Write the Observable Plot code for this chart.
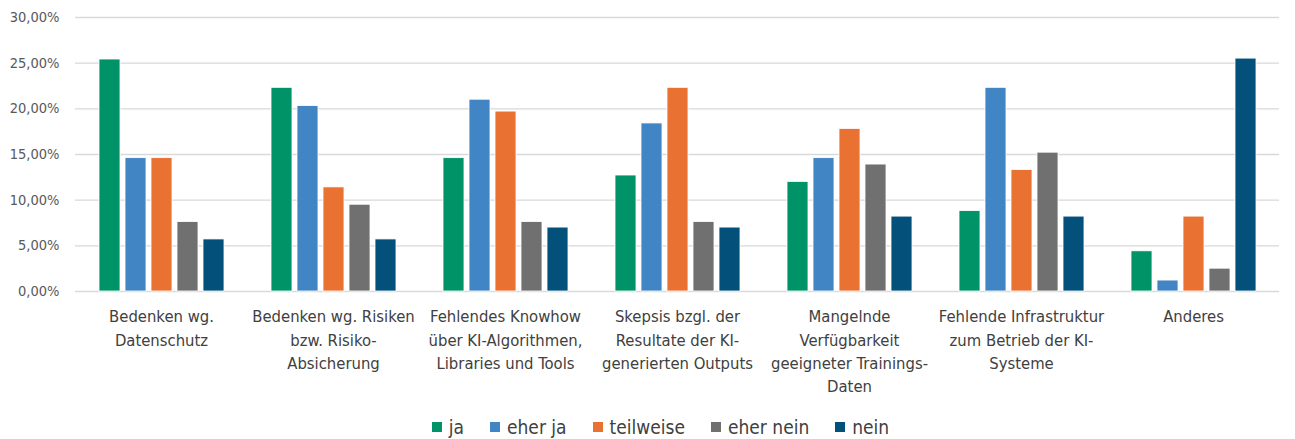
<!DOCTYPE html>
<html>
<head>
<meta charset="utf-8">
<script src="https://cdn.jsdelivr.net/npm/d3@7"></script>
<script src="https://cdn.jsdelivr.net/npm/@observablehq/plot@0.6"></script>
<style>
  html, body { margin: 0; padding: 0; background: #fff; }
  body { width: 1295px; height: 439px; overflow: hidden; font-family: "Liberation Sans Narrow", "DejaVu Sans Condensed", "Roboto", sans-serif; }
  #legend { display: flex; justify-content: center; gap: 26px; font-size: 19px; color: #404040; height: 34px; align-items: center; padding-top: 5px; padding-left: 26px; }
  #legend .item { display: flex; align-items: center; gap: 7px; }
  #legend .sw { width: 10px; height: 10px; display: inline-block; }
</style>
</head>
<body>
<div id="chart"></div>
<div id="legend"></div>
<script>
const categories = [
  "Bedenken wg.\nDatenschutz",
  "Bedenken wg. Risiken\nbzw. Risiko-\nAbsicherung",
  "Fehlendes Knowhow\nüber KI-Algorithmen,\nLibraries und Tools",
  "Skepsis bzgl. der\nResultate der KI-\ngenerierten Outputs",
  "Mangelnde\nVerfügbarkeit\ngeeigneter Trainings-\nDaten",
  "Fehlende Infrastruktur\nzum Betrieb der KI-\nSysteme",
  "Anderes"
];
const series = ["ja", "eher ja", "teilweise", "eher nein", "nein"];
const colors = ["#009368", "#4285c5", "#e97132", "#707070", "#03507a"];
const ja       = [25.4, 22.3, 14.6, 12.7, 12.0,  8.8,  4.4];
const eherJa   = [14.6, 20.3, 21.0, 18.4, 14.6, 22.3,  1.2];
const teilweise= [14.6, 11.4, 19.7, 22.3, 17.8, 13.3,  8.2];
const eherNein = [ 7.6,  9.5,  7.6,  7.6, 13.9, 15.2,  2.5];
const nein     = [ 5.7,  5.7,  7.0,  7.0,  8.2,  8.2, 25.5];
const yTicks = [0, 5, 10, 15, 20, 25, 30];

const seriesValues = [ja, eherJa, teilweise, eherNein, nein];
const data = [];
categories.forEach((c, i) => {
  series.forEach((s, j) => data.push({category: c, series: s, value: seriesValues[j][i]}));
});

const fmt = d => d.toFixed(2).replace(".", ",") + "%";

const chart = Plot.plot({
  width: 1295,
  height: 405,
  marginTop: 17,
  marginBottom: 114,
  marginLeft: 73,
  marginRight: 15,
  style: {fontFamily: '"Liberation Sans Narrow", "DejaVu Sans Condensed", Roboto, sans-serif', background: "#fff"},
  fx: {domain: categories, paddingInner: 0, paddingOuter: 0, label: null},
  x: {domain: series, paddingInner: 0.2, paddingOuter: 0.8, axis: null},
  y: {domain: [0, 30], ticks: yTicks, label: null},
  color: {domain: series, range: colors},
  marks: [
    Plot.gridY(yTicks, {stroke: "#d9d9d9", strokeOpacity: 1, strokeWidth: 1.4}),
    Plot.barY(data, {fx: "category", x: "series", y: "value", fill: "series", stroke: "#ffffff", strokeWidth: 0.8}),
    Plot.axisY(yTicks, {tickSize: 0, tickPadding: 16, tickFormat: fmt, fontSize: 14.5, color: "#595959", label: null}),
    Plot.axisFx({anchor: "bottom", tickSize: 0, tickPadding: 14, fontSize: 16.5, lineHeight: 1.42, color: "#404040", label: null})
  ]
});
document.getElementById("chart").appendChild(chart);

const legend = document.getElementById("legend");
series.forEach((s, i) => {
  const item = document.createElement("span");
  item.className = "item";
  const sw = document.createElement("span");
  sw.className = "sw";
  sw.style.background = colors[i];
  const t = document.createElement("span");
  t.textContent = s;
  item.appendChild(sw);
  item.appendChild(t);
  legend.appendChild(item);
});
</script>
</body>
</html>
